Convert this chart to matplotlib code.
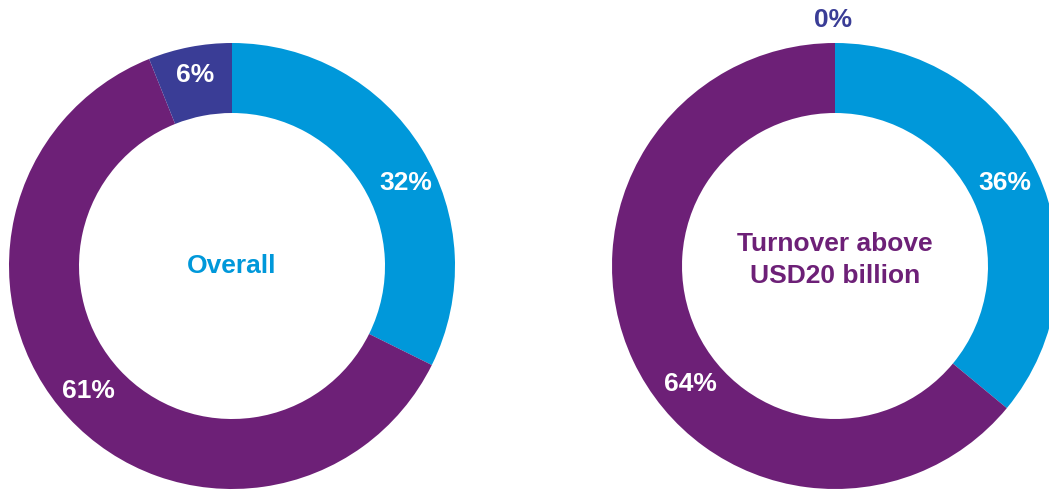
import matplotlib
matplotlib.use("Agg")
import matplotlib.pyplot as plt

W, H = 1049, 492

BLUE = "#0098DA"
PURPLE = "#6D2077"
NAVY = "#3A3D96"

# order: light blue, purple, dark blue (clockwise from 12 o'clock)
overall = [32, 61, 6]
above20 = [36, 64, 0]
overall_labels = ["32%", "61%", "6%"]
above20_labels = ["36%", "64%", "0%"]
centre_titles = ["Overall", "Turnover above\nUSD20 billion"]

# layout in pixels (y from top)
centres = [(232, 266), (835, 266)]
R_OUT, RING = 223, 70
label_pos = [
    [(406, 183), (88, 391), (195, 75)],
    [(1005, 183), (690, 384), (833, 20)],
]
label_col = [["white", "white", "white"], ["white", "white", NAVY]]
title_col = [BLUE, PURPLE]
title_y = [266, 260]

plt.rcParams["font.family"] = ["Liberation Sans", "DejaVu Sans"]

fig = plt.figure(figsize=(W / 100, H / 100), dpi=100)
ax = fig.add_axes([0, 0, 1, 1])

for i, (vals, labs) in enumerate([(overall, overall_labels), (above20, above20_labels)]):
    cx, cy = centres[i]
    ax.pie(vals, colors=[BLUE, PURPLE, NAVY], startangle=90, counterclock=False,
           radius=R_OUT, center=(cx, H - cy),
           wedgeprops=dict(width=RING, edgecolor="none", linewidth=0))
    for lab, (lx, ly), c in zip(labs, label_pos[i], label_col[i]):
        ax.text(lx, H - ly, lab, ha="center", va="center", color=c,
                fontsize=19, fontweight="bold")
    ax.text(cx, H - title_y[i], centre_titles[i], ha="center", va="center",
            color=title_col[i], fontsize=19, fontweight="bold", linespacing=1.45)

ax.set_xlim(0, W)
ax.set_ylim(0, H)
ax.set_aspect("equal")
ax.axis("off")

fig.savefig("out.png", dpi=100, facecolor="white")
